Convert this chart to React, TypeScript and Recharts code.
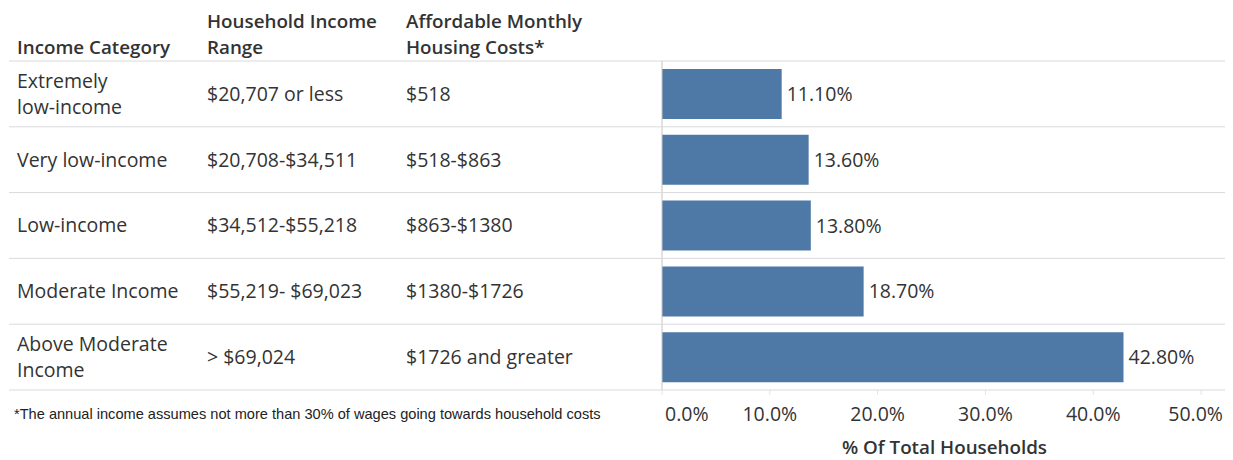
import { Bar, BarChart, CartesianGrid, LabelList, XAxis, YAxis } from "recharts";

const categories = [
  "Extremely\nlow-income",
  "Very low-income",
  "Low-income",
  "Moderate Income",
  "Above Moderate\nIncome",
];
const incomeRanges = ["$20,707 or less", "$20,708-$34,511", "$34,512-$55,218", "$55,219- $69,023", "> $69,024"];
const housingCosts = ["$518", "$518-$863", "$863-$1380", "$1380-$1726", "$1726 and greater"];
const shares = [11.1, 13.6, 13.8, 18.7, 42.8];
const headers = ["Income Category", "Household Income\nRange", "Affordable Monthly\nHousing Costs*"];
const xTicks = [0, 10, 20, 30, 40, 50];
const xMax = 52.4;
const axisTitle = "% Of Total Households";
const footnote = "*The annual income assumes not more than 30% of wages going towards household costs";

const data = categories.map((category, i) => ({
  category,
  range: incomeRanges[i],
  cost: housingCosts[i],
  share: shares[i],
}));

// layout
const W = 1225;
const H = 452;
const M = { top: 53, right: 6, bottom: 0, left: 0 };
const Y_AXIS_W = 654;
const X_AXIS_H = 70;
const COLS = [9, 199, 398];
const LINE_H = 26;
const FONT = "'Open Sans', sans-serif";
const SIZE = 19.5;
const HEAD_SIZE = 18.8;
const TEXT = "#333333";
const GRID = "#dadada";
const BAR = "#4e79a7";

const plotRight = W - M.right;
const rowH = (H - M.top - M.bottom - X_AXIS_H) / categories.length;

function Lines({ x, y, text }: { x: number; y: number; text: string }) {
  const lines = text.split("\n");
  const y0 = y - ((lines.length - 1) * LINE_H) / 2;
  return (
    <text x={x} y={y0} fill={TEXT} fontSize={SIZE} fontFamily={FONT}>
      {lines.map((l, i) => (
        <tspan key={i} x={x} y={y0 + i * LINE_H} dy="0.35em">
          {l}
        </tspan>
      ))}
    </text>
  );
}

function RowTick(props: any) {
  const { y, index } = props;
  const row = data[index];
  const half = props.payload?.offset || rowH / 2;
  return (
    <g>
      {index === 0 && <line x1={1} x2={plotRight} y1={y - half} y2={y - half} stroke={GRID} />}
      <line x1={1} x2={plotRight} y1={y + half} y2={y + half} stroke={GRID} />
      <Lines x={COLS[0]} y={y} text={row.category} />
      <Lines x={COLS[1]} y={y} text={row.range} />
      <Lines x={COLS[2]} y={y} text={row.cost} />
    </g>
  );
}

function XTick(props: any) {
  const { x, y, payload, index } = props;
  const first = index === 0;
  const last = index === xTicks.length - 1;
  const anchor = first ? "start" : last ? "end" : "middle";
  const tx = first ? x + 3 : last ? plotRight - 4 : x;
  return (
    <text x={tx} y={y + 24} textAnchor={anchor} fill={TEXT} fontSize={SIZE} fontFamily={FONT}>
      {`${Number(payload.value).toFixed(1)}%`}
    </text>
  );
}

function Headers() {
  return (
    <g>
      {headers.map((h, i) => {
        const lines = h.split("\n");
        const base = M.top - 7;
        return (
          <text key={i} x={COLS[i]} fill={TEXT} fontSize={HEAD_SIZE} fontFamily={FONT} fontWeight={600}>
            {lines.map((l, j) => (
              <tspan key={j} x={COLS[i]} y={base - (lines.length - 1 - j) * LINE_H}>
                {l}
              </tspan>
            ))}
          </text>
        );
      })}
      <text x={6} y={411} fill="#222" fontSize={14.6} fontFamily="'Liberation Sans', Arial, sans-serif">
        {footnote}
      </text>
    </g>
  );
}

export default function App() {
  return (
    <BarChart width={W} height={H} data={data} layout="vertical" margin={M}>
      <CartesianGrid
        horizontal={false}
        stroke={GRID}
        verticalCoordinatesGenerator={({ offset }: any) => [offset.left + offset.width]}
      />
      <XAxis
        type="number"
        domain={[0, xMax]}
        ticks={xTicks}
        height={X_AXIS_H}
        axisLine={false}
        tickSize={5}
        tickLine={{ stroke: "#e4e4e4" }}
        tick={<XTick />}
        label={{
          value: axisTitle,
          position: "insideBottom",
          offset: 6,
          fill: TEXT,
          fontSize: HEAD_SIZE,
          fontWeight: 600,
          fontFamily: FONT,
        }}
      />
      <YAxis
        type="category"
        dataKey="category"
        width={Y_AXIS_W}
        interval={0}
        tickLine={false}
        axisLine={{ stroke: "#c4c4c4" }}
        tick={<RowTick />}
      />
      <Bar dataKey="share" fill={BAR} barSize={50} isAnimationActive={false}>
        <LabelList
          dataKey="share"
          position="right"
          offset={5}
          formatter={(v: any) => `${Number(v).toFixed(2)}%`}
          fill={TEXT}
          fontSize={SIZE}
          fontFamily={FONT}
        />
      </Bar>
      <Headers />
    </BarChart>
  );
}
